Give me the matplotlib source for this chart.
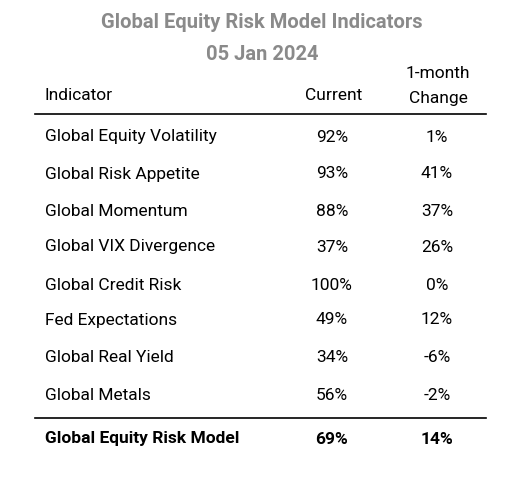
import matplotlib
matplotlib.use("Agg")
import matplotlib.pyplot as plt

title = ["Global Equity Risk Model Indicators", "05 Jan 2024"]
indicators = ["Global Equity Volatility", "Global Risk Appetite", "Global Momentum",
              "Global VIX Divergence", "Global Credit Risk", "Fed Expectations",
              "Global Real Yield", "Global Metals"]
current = ["92%", "93%", "88%", "37%", "100%", "49%", "34%", "56%"]
change = ["1%", "41%", "37%", "26%", "0%", "12%", "-6%", "-2%"]
total = ("Global Equity Risk Model", "69%", "14%")

fig = plt.figure(figsize=(5.25, 4.8), dpi=100)
ax = fig.add_axes([0, 0, 1, 1])
ax.set_xlim(0, 525); ax.set_ylim(480, 0); ax.axis("off")
fam = ["Roboto", "DejaVu Sans"]
fs = 12.5
ax.text(262, 22, title[0], ha="center", va="center", fontsize=14.5, fontweight="bold", color="#8a8a8a", family=fam)
ax.text(262, 55, title[1], ha="center", va="center", fontsize=14.5, fontweight="bold", color="#8a8a8a", family=fam)
ax.text(45, 96, "Indicator", ha="left", va="center", fontsize=fs, family=fam)
ax.text(334, 96, "Current", ha="center", va="center", fontsize=fs, family=fam)
ax.text(438, 74, "1-month", ha="center", va="center", fontsize=fs, family=fam)
ax.text(438, 99, "Change", ha="center", va="center", fontsize=fs, family=fam)
ax.plot([35, 486], [114, 114], color="black", lw=1.2)
ys = [137, 174, 212, 247, 285, 320, 358, 395]
for y, n, c, d in zip(ys, indicators, current, change):
    ax.text(45, y, n, ha="left", va="center", fontsize=fs, family=fam)
    ax.text(332, y, c, ha="center", va="center", fontsize=fs, family=fam)
    ax.text(437, y, d, ha="center", va="center", fontsize=fs, family=fam)
ax.plot([35, 486], [418, 418], color="black", lw=1.2)
ax.text(45, 439, total[0], ha="left", va="center", fontsize=fs, fontweight="bold", family=fam)
ax.text(332, 439, total[1], ha="center", va="center", fontsize=fs, fontweight="bold", family=fam)
ax.text(437, 439, total[2], ha="center", va="center", fontsize=fs, fontweight="bold", family=fam)
fig.savefig("out.png", dpi=100)
